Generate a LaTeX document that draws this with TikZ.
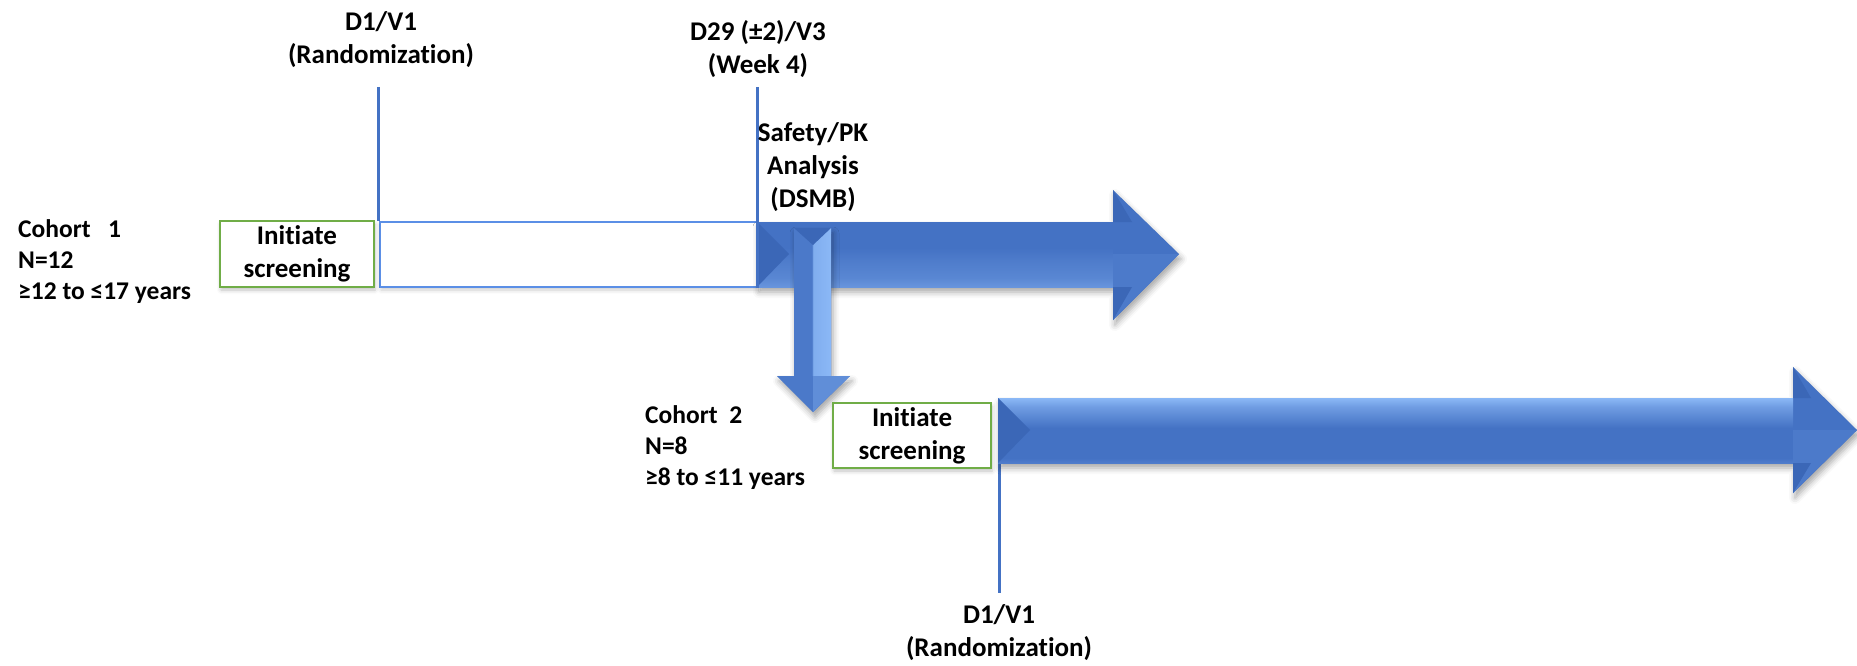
\documentclass[tikz,border=0pt]{standalone}
\usepackage{fontspec}
\setmainfont{Carlito}[Ligatures=NoCommon]
\usetikzlibrary{shadows.blur}
\definecolor{oblue}{HTML}{4472C4}
\definecolor{lblue}{HTML}{8BB8F6}
\definecolor{dblue}{HTML}{3560AE}
\definecolor{ogreen}{HTML}{70AD47}
\definecolor{rblue}{HTML}{5B8FE6}
\colorlet{mixA}{oblue!85!lblue}
\colorlet{mixB}{oblue!40!lblue}
\colorlet{mixC}{oblue!50!lblue}
\colorlet{mixD}{oblue!70!lblue}
\colorlet{mixE}{lblue!85!oblue}
\colorlet{mixF}{oblue!90!lblue}
\colorlet{bevel}{dblue!60!oblue}
\colorlet{headlight}{oblue!60!lblue}
\colorlet{headlow}{oblue!88!lblue}
\pgfdeclareverticalshading{shafttop}{100bp}{color(0bp)=(mixA); color(25bp)=(mixA); color(29bp)=(oblue); color(52bp)=(oblue); color(68bp)=(mixB); color(75bp)=(lblue); color(100bp)=(lblue)}
\pgfdeclareverticalshading{shaftbot}{100bp}{color(0bp)=(mixC); color(25bp)=(mixC); color(32bp)=(mixD); color(45bp)=(mixA); color(55bp)=(oblue); color(100bp)=(oblue)}
\pgfdeclarehorizontalshading{downshade}{100bp}{color(0bp)=(mixF); color(25bp)=(mixF); color(49bp)=(mixF); color(51bp)=(mixE); color(75bp)=(lblue); color(100bp)=(lblue)}
\begin{document}
\begin{tikzpicture}[x=1pt,y=-1pt,
  lbl/.style={font=\fontsize{27}{33}\selectfont\bfseries, align=center, inner sep=0pt},
  cohort/.style={font=\fontsize{25.5}{31}\selectfont\bfseries, align=left, anchor=west, inner sep=0pt},
  greenbox/.style={draw=ogreen, line width=2.5pt, fill=white, inner sep=0pt, align=center,
    font=\fontsize{27}{33}\selectfont\bfseries,
    blur shadow={shadow xshift=1pt, shadow yshift=-3pt, shadow blur radius=4pt, shadow opacity=25}},
  periodbox/.style={draw=rblue, line width=2.5pt, fill=white, inner sep=0pt,
    blur shadow={shadow xshift=1pt, shadow yshift=-3pt, shadow blur radius=4pt, shadow opacity=20}},
  tick/.style={draw=oblue, line width=3pt},
  arrowbody/.style={fill=oblue, blur shadow={shadow xshift=2pt, shadow yshift=-5pt, shadow blur radius=6pt, shadow opacity=35}},
]
\useasboundingbox (0,0) rectangle (1857,666);

% Cohort 1 row
\node[periodbox, minimum width=377pt, minimum height=65pt] (per1) at (568.5,254.5) {};
\node[greenbox, minimum width=154pt, minimum height=66pt] (scr1) at (297,254) {Initiate\\screening};
\coordinate (t1) at (378,87);
\draw[tick] (t1) -- (t1 |- per1.north);

% arrow 1
\path[arrowbody] (757,222) -- (1113,222) -- (1113,190) -- (1179,254) -- (1113,320) -- (1113,287) -- (757,287) -- cycle;
\shade[shading=shaftbot] (757,222) rectangle (1113,287);
\fill[bevel] (757,222) -- (789,254) -- (757,287) -- cycle;
\fill[headlow] (1113,254) -- (1179,254) -- (1113,320) -- cycle;
\fill[bevel] (1113,190) -- (1113,222) -- (1132,222) -- cycle;
\fill[bevel] (1113,320) -- (1113,287) -- (1132,287) -- cycle;

\coordinate (t2) at (757,87);
\draw[tick] (t2) -- (t2 |- per1.south);

% down arrow
\path[arrowbody] (794,228) -- (831,228) -- (831,376) -- (850,376) -- (813,412) -- (777,376) -- (794,376) -- cycle;
\shade[shading=downshade] (794,228) rectangle (831,376);
\fill[bevel] (794,228) -- (831,228) -- (813,245) -- cycle;
\fill[mixF] (777,376) -- (813,376) -- (813,412) -- cycle;
\fill[headlight] (813,376) -- (850,376) -- (813,412) -- cycle;

% Cohort 2 row
\coordinate (a2top) at (999,398);
\coordinate (t3) at (999,593);
\draw[tick] (a2top) -- (t3);
\path[arrowbody] (998,398) -- (1793,398) -- (1793,367) -- (1857,430) -- (1793,493) -- (1793,463) -- (998,463) -- cycle;
\shade[shading=shafttop] (998,398) rectangle (1793,463);
\fill[bevel] (998,398) -- (1030,430) -- (998,463) -- cycle;
\fill[headlow] (1793,430) -- (1857,430) -- (1793,493) -- cycle;
\fill[bevel] (1793,367) -- (1793,398) -- (1811,398) -- cycle;
\fill[bevel] (1793,493) -- (1793,463) -- (1811,463) -- cycle;
\node[greenbox, minimum width=158pt, minimum height=65pt] (scr2) at (912,435.5) {Initiate\\screening};

% labels
\node[lbl] (rand1) at (381,40) {D1/V1\\(Randomization)};
\node[lbl] (wk4) at (758,49) {D29 (±2)/V3\\(Week 4)};
\node[lbl] (dsmb) at (813,167) {Safety/PK\\Analysis\\(DSMB)};
\node[cohort] (c1) at (18,262) {Cohort\ \ \ 1\\N=12\\≥12 to ≤17 years};
\node[cohort] (c2) at (645,448) {Cohort\ \ 2\\N=8\\≥8 to ≤11 years};
\node[lbl] (rand2) at (999,633) {D1/V1\\(Randomization)};
\end{tikzpicture}
\end{document}
